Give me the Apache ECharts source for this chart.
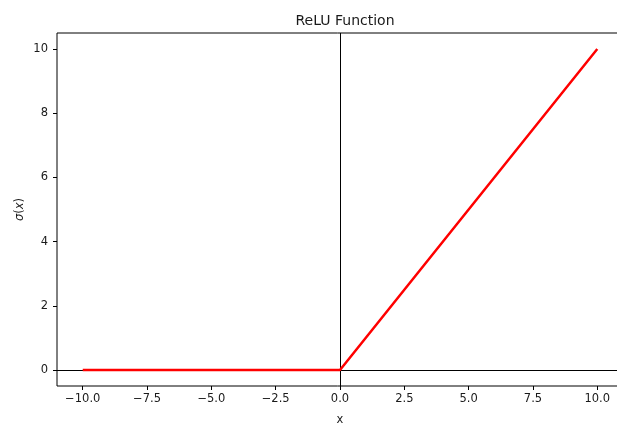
<!DOCTYPE html>
<html>
<head>
<meta charset="utf-8">
<script src="https://cdn.jsdelivr.net/npm/echarts@6/dist/echarts.min.js"></script>
<style>html,body{margin:0;padding:0;background:#fff;}#c{width:617px;height:425px;}</style>
</head>
<body>
<div id="c"></div>
<script>
// Data
var xValues = [-10, 0, 10];
var reluValues = [0, 0, 10];
var xTicks = [-10, -7.5, -5, -2.5, 0, 2.5, 5, 7.5, 10];
var yTicks = [0, 2, 4, 6, 8, 10];
var titleText = 'ReLU Function';
var xName = 'x';

var points = xValues.map(function (x, i) { return [x, reluValues[i]]; });
var txt = '#1a1a1a';
var font = 'DejaVu Sans';
function fmtMinus(s) { return s.replace('-', '\u2212'); }

var chart = echarts.init(document.getElementById('c'), null, { renderer: 'canvas' });
chart.setOption({
  animation: false,
  backgroundColor: '#fff',
  title: {
    text: titleText, left: 340, top: 9, textAlign: 'center',
    textStyle: { fontFamily: font, fontSize: 14, fontWeight: 'normal', color: txt }
  },
  grid: { left: 57, top: 33, right: -6, bottom: 39, outerBoundsMode: 'none', containLabel: false,
    show: true, borderColor: '#000', borderWidth: 1, backgroundColor: 'transparent' },
  xAxis: {
    type: 'value', min: -11, max: 11,
    name: xName, nameLocation: 'middle', nameGap: 28, nameMoveOverlap: false,
    nameTextStyle: { fontFamily: font, fontSize: 11.5, color: txt },
    axisLine: { show: false, onZero: false },
    splitLine: { show: false },
    axisTick: { show: true, length: 4, customValues: xTicks, lineStyle: { color: '#000', width: 1 } },
    axisLabel: { customValues: xTicks, margin: 7, fontFamily: font, fontSize: 11.5, color: txt,
      formatter: function (v) { return fmtMinus(v.toFixed(1)); } }
  },
  yAxis: {
    type: 'value', min: -0.5, max: 10.5,
    name: '{i|σ}({i|x})', nameLocation: 'middle', nameGap: 31, nameRotate: 90, nameMoveOverlap: false,
    nameTextStyle: { fontFamily: font, fontSize: 11.5, color: txt, rich: { i: { fontStyle: 'italic', fontFamily: font, fontSize: 11.5, color: txt } } },
    axisLine: { show: false, onZero: false },
    splitLine: { show: false },
    axisTick: { show: true, length: 4, customValues: yTicks, lineStyle: { color: '#000', width: 1 } },
    axisLabel: { customValues: yTicks, margin: 9, fontFamily: font, fontSize: 11.5, color: txt,
      formatter: function (v) { return fmtMinus(String(v)); } }
  },
  series: [
    {
      type: 'line', data: [], z: 1, silent: true,
      markLine: {
        z: 1, silent: true, symbol: 'none', animation: false,
        label: { show: false },
        lineStyle: { color: '#000', width: 1, type: 'solid' },
        data: [{ xAxis: 0 }, { yAxis: 0 }]
      }
    },
    {
      type: 'line', data: points, z: 3, showSymbol: false, symbol: 'none',
      lineStyle: { color: '#ff0000', width: 2.5 }
    }
  ]
});
</script>
</body>
</html>
